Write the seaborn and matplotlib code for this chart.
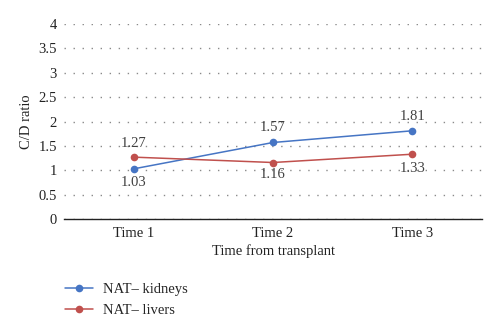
import matplotlib
matplotlib.use("Agg")
import matplotlib.pyplot as plt
import seaborn as sns
import pandas as pd

times = ["Time 1", "Time 2", "Time 3"]
kidneys = [1.03, 1.57, 1.81]
livers = [1.27, 1.16, 1.33]
series_names = ["NAT\u2013 kidneys", "NAT\u2013 livers"]
colors = ["#4675C4", "#C0504D"]

df = pd.DataFrame({
    "time": times * 2,
    "value": kidneys + livers,
    "series": [series_names[0]] * 3 + [series_names[1]] * 3,
})

sns.set_theme(style="white")
plt.rcParams['font.family'] = ['Liberation Serif', 'DejaVu Serif']

fig = plt.figure(figsize=(5.0, 3.32), dpi=100)
ax = fig.add_axes([0.128, 0.340, 0.836, 0.588])

sns.lineplot(data=df, x="time", y="value", hue="series", palette=colors,
             marker="o", markersize=5.5, markeredgewidth=0, linewidth=1.1,
             ax=ax, legend=True)

# data labels
offsets_k = [-9.5, 10.5, 10.5]
offsets_l = [9.5, -8.5, -10]
for i, v in enumerate(kidneys):
    ax.annotate(f"{v:.2f}", (i, v), xytext=(0, offsets_k[i]), textcoords="offset points",
                ha="center", va="center", fontsize=10.5, color="#404040")
for i, v in enumerate(livers):
    ax.annotate(f"{v:.2f}", (i, v), xytext=(0, offsets_l[i]), textcoords="offset points",
                ha="center", va="center", fontsize=10.5, color="#404040")

ax.set_xlim(-0.5, 2.5)
ax.set_ylim(0, 4)
ax.set_yticks([0, 0.5, 1, 1.5, 2, 2.5, 3, 3.5, 4])
ax.set_yticklabels(["0", "0.5", "1", "1.5", "2", "2.5", "3", "3.5", "4"])
ax.yaxis.grid(True, linestyle=(0, (1, 5.5)), color="#8a8a8a", linewidth=1.0)
ax.xaxis.grid(False)
ax.set_axisbelow(True)

for s in ["left", "top", "right"]:
    ax.spines[s].set_visible(False)
ax.spines["bottom"].set_color("#222222")
ax.spines["bottom"].set_linewidth(1.0)

ax.tick_params(axis="y", length=0, labelsize=10.5, colors="#222222", pad=5)
ax.tick_params(axis="x", which="major", length=0, labelsize=10.5, colors="#222222", pad=6)
ax.set_xticks([-0.5, 0.5, 1.5, 2.5], minor=True)
ax.tick_params(axis="x", which="minor", length=4, width=0.9, color="#222222", direction="out")

ax.set_xlabel("Time from transplant", fontsize=10.5, color="#222222", labelpad=3)
ax.set_ylabel("C/D ratio", fontsize=10.5, color="#222222", labelpad=4)

handles, labels = ax.get_legend_handles_labels()
ax.get_legend().remove()
fig.legend(handles, labels, loc="upper left", bbox_to_anchor=(0.13, 0.148),
           frameon=False, fontsize=10.5, handlelength=1.9, handletextpad=0.7,
           labelspacing=0.55, borderaxespad=0, borderpad=0)

fig.savefig("out.png", dpi=100)
